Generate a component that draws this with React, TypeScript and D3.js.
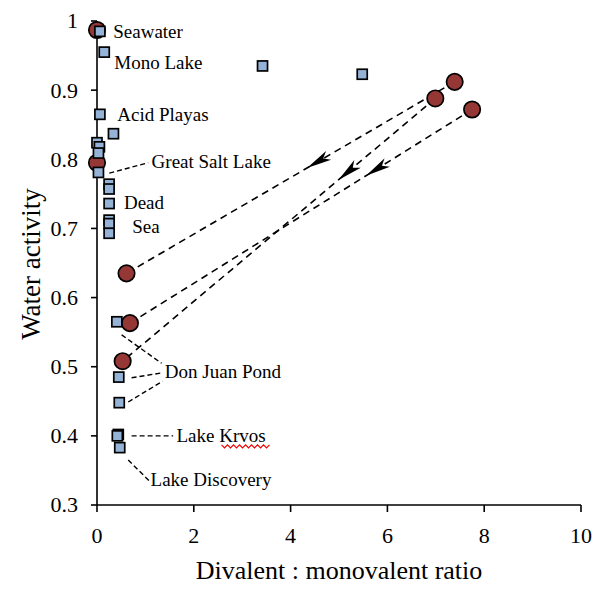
import React from 'react';
import * as d3 from 'd3';

const width = 596;
const height = 590;
const margin = { top: 21, right: 14, bottom: 85, left: 97 };

// square series (salt lakes / brines)
const squareX = [0.06, 0.15, 3.42, 5.48, 0.06, 0.34, 0.0, 0.05, 0.03, 0.03, 0.25, 0.25, 0.25, 0.25, 0.25, 0.25, 0.41, 0.45, 0.46, 0.44, 0.42, 0.47];
const squareY = [0.985, 0.955, 0.935, 0.923, 0.865, 0.837, 0.824, 0.818, 0.809, 0.781, 0.764, 0.757, 0.736, 0.712, 0.707, 0.693, 0.565, 0.485, 0.448, 0.402, 0.4, 0.383];

// circle series
const circleX = [0.0, 0.0, 0.61, 0.68, 0.53, 7.39, 6.99, 7.75];
const circleY = [0.987, 0.795, 0.635, 0.563, 0.508, 0.912, 0.888, 0.872];

// arrows: from circle index -> to circle index, position of arrow head along the line
const arrowFrom = [5, 6, 7];
const arrowTo = [2, 4, 3];
const arrowAt = [0.45, 0.31, 0.31];

const xTicks = [0, 2, 4, 6, 8, 10];
const yTicks = [0.3, 0.4, 0.5, 0.6, 0.7, 0.8, 0.9, 1];
const yTickLabels = ['0.3', '0.4', '0.5', '0.6', '0.7', '0.8', '0.9', '1'];

const labelText = ['Seawater', 'Mono Lake', 'Acid Playas', 'Great Salt Lake', 'Dead', 'Sea', 'Don Juan Pond', 'Lake Krvos', 'Lake Discovery'];
const labelX = [0.336, 0.357, 0.419, 1.128, 0.557, 0.728, 1.402, 1.643, 1.107];
const labelY = [0.985, 0.939, 0.864, 0.797, 0.737, 0.703, 0.493, 0.4, 0.336];

// leader lines [x1, y1, x2, y2] in data units
const leaders = [
  [0.254, 0.78, 1.058, 0.795],
  [0.509, 0.546, 1.334, 0.505],
  [0.715, 0.484, 1.334, 0.491],
  [0.645, 0.449, 1.355, 0.479],
  [0.715, 0.4, 1.573, 0.4],
  [0.645, 0.365, 1.093, 0.334],
];

const font = '"Liberation Serif", "Times New Roman", serif';

export default function App() {
  const x = d3.scaleLinear().domain([0, 10]).range([margin.left, width - margin.right - 1]);
  const y = d3.scaleLinear().domain([0.3, 1]).range([height - margin.bottom, margin.top]);
  const x0 = x(0);
  const y0 = y(0.3);

  const arrows = arrowFrom.map((f, i) => {
    const ax = x(circleX[f]), ay = y(circleY[f]);
    const bx = x(circleX[arrowTo[i]]), by = y(circleY[arrowTo[i]]);
    const len = Math.hypot(bx - ax, by - ay);
    const dx = (bx - ax) / len, dy = (by - ay) / len;
    const nx = -dy, ny = dx;
    const tx = ax + (bx - ax) * arrowAt[i], ty = ay + (by - ay) * arrowAt[i];
    const L = 25, w = 5;
    const pts = [
      [tx, ty],
      [tx - L * dx + w * nx, ty - L * dy + w * ny],
      [tx - 0.75 * L * dx, ty - 0.75 * L * dy],
      [tx - L * dx - w * nx, ty - L * dy - w * ny],
    ];
    return { ax, ay, bx, by, d: 'M' + pts.map(p => p.join(',')).join('L') + 'Z' };
  });

  // spell-check squiggle under "Krvos"
  const sqX = x(labelX[7]) + 45;
  const sqY = y(labelY[7]) + 10;
  const squiggle = d3.line()(d3.range(0, 17).map(i => [sqX + i * 3, sqY + (i % 2 ? 2 : -1)]));

  return (
    <div style={{ position: 'absolute', left: 0, top: 0 }}>
      <svg width={width} height={height} style={{ display: 'block', background: '#fff' }} fontFamily={font}>
        {/* dashed trajectory lines */}
        {arrows.map((a, i) => (
          <line key={'tl' + i} x1={a.ax} y1={a.ay} x2={a.bx} y2={a.by} stroke="#000" strokeWidth={1.6} strokeDasharray="7,5" />
        ))}
        {arrows.map((a, i) => (
          <path key={'ah' + i} d={a.d} fill="#000" />
        ))}

        {/* leader lines */}
        {leaders.map((l, i) => (
          <line key={'ld' + i} x1={x(l[0])} y1={y(l[1])} x2={x(l[2])} y2={y(l[3])} stroke="#000" strokeWidth={1.4} strokeDasharray="5,3" />
        ))}

        {/* axes */}
        <line x1={x0} x2={x0} y1={y0} y2={y(1)} stroke="#000" strokeWidth={1.6} />
        <line x1={x0} x2={x(10)} y1={y0} y2={y0} stroke="#000" strokeWidth={1.6} />
        {yTicks.map((t, i) => (
          <g key={'yt' + i}>
            <line x1={x0 - 6} x2={x0} y1={y(t)} y2={y(t)} stroke="#000" strokeWidth={1.6} />
            <text x={78} y={y(t)} dy="0.34em" textAnchor="end" fontSize={22}>{yTickLabels[i]}</text>
          </g>
        ))}
        {xTicks.map((t, i) => (
          <g key={'xt' + i}>
            <line x1={x(t)} x2={x(t)} y1={y0} y2={y0 + 7} stroke="#000" strokeWidth={1.6} />
            <text x={x(t)} y={543} textAnchor="middle" fontSize={22}>{t}</text>
          </g>
        ))}
        <text x={(x0 + x(10)) / 2} y={579} textAnchor="middle" fontSize={26}>Divalent : monovalent ratio</text>
        <text transform="translate(40,264) rotate(-90)" textAnchor="middle" fontSize={27}>Water activity</text>

        {/* circles */}
        {circleX.map((cx, i) => (
          <circle key={'c' + i} cx={x(cx)} cy={y(circleY[i])} r={8.2} fill="#953735" stroke="#000" strokeWidth={1.7} />
        ))}
        {/* squares */}
        {squareX.map((sx, i) => (
          <rect key={'s' + i} x={x(sx) - 5} y={y(squareY[i]) - 5} width={10} height={10} fill="#95B3D7" stroke="#000" strokeWidth={1.7} />
        ))}

        {/* labels */}
        {labelText.map((t, i) => (
          <text key={'lb' + i} x={x(labelX[i])} y={y(labelY[i])} dy="0.33em" fontSize={19}>{t}</text>
        ))}
        <path d={squiggle || ''} fill="none" stroke="#e00" strokeWidth={1.2} />
      </svg>
    </div>
  );
}
